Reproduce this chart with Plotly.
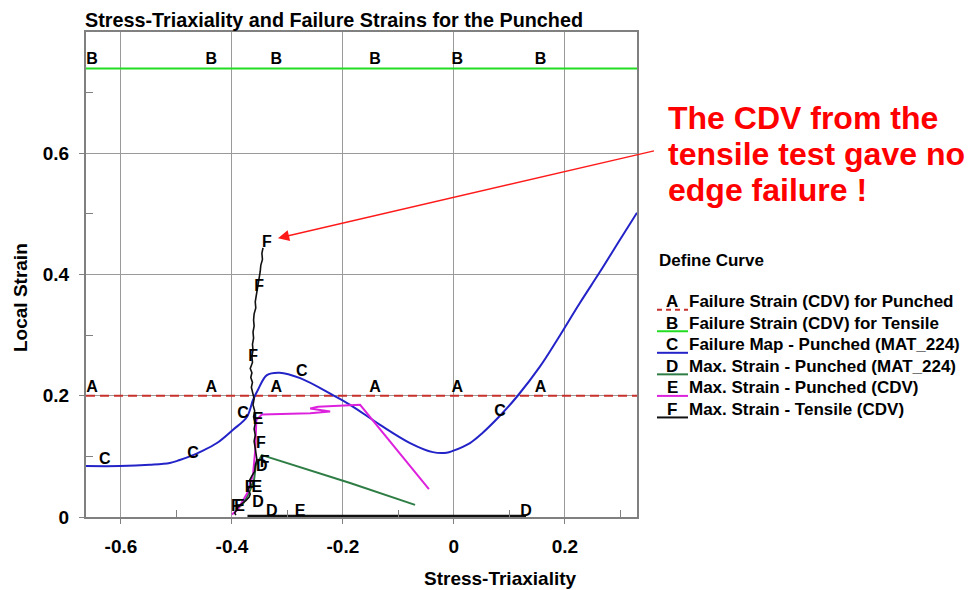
import plotly.graph_objects as go

FONT = "Liberation Sans, Arial, sans-serif"

# ---------------- data ----------------
x_ticks = [-0.6, -0.4, -0.2, 0.0, 0.2]
x_tick_text = ["-0.6", "-0.4", "-0.2", "0", "0.2"]
y_ticks = [0.0, 0.2, 0.4, 0.6]
y_tick_text = ["0", "0.2", "0.4", "0.6"]
x_minor = [-0.5, -0.3, -0.1, 0.1, 0.3]
y_minor = [0.1, 0.3, 0.5, 0.7]

x_span = [-0.663, 0.330]
A_level = 0.20   # Failure Strain (CDV) for Punched
B_level = 0.74   # Failure Strain (CDV) for Tensile
AB_label_x = [-0.652, -0.437, -0.320, -0.142, 0.006, 0.156]

C_x = [-0.663, -0.602, -0.548, -0.512, -0.494, -0.470, -0.458, -0.427, -0.398,
       -0.373, -0.362, -0.353, -0.337, -0.314, -0.277, -0.218, -0.187, -0.133,
       -0.079, -0.038, -0.013, -0.002, 0.029, 0.052, 0.083, 0.115, 0.155, 0.186,
       0.227, 0.263, 0.299, 0.330]
C_y = [0.084, 0.084, 0.086, 0.089, 0.094, 0.102, 0.107, 0.122, 0.144,
       0.165, 0.193, 0.210, 0.234, 0.238, 0.229, 0.201, 0.185, 0.152,
       0.122, 0.107, 0.106, 0.109, 0.122, 0.139, 0.167, 0.200, 0.248, 0.292,
       0.353, 0.404, 0.457, 0.502]

D_x = [-0.392, -0.380, -0.369, -0.360, -0.357, -0.346, -0.187, -0.070]
D_y = [0.012, 0.022, 0.040, 0.062, 0.085, 0.102, 0.056, 0.020]
D_base_x = [-0.372, 0.130]
D_base_y = [0.002, 0.002]

E_x = [-0.400, -0.390, -0.372, -0.362, -0.358, -0.356, -0.346, -0.259, -0.223,
       -0.259, -0.245, -0.187, -0.169, -0.045]
E_y = [0.004, 0.012, 0.040, 0.070, 0.110, 0.160, 0.169, 0.171, 0.174,
       0.179, 0.182, 0.185, 0.185, 0.046]

F_y = [0.444, 0.435, 0.425, 0.415, 0.405, 0.395, 0.385, 0.375, 0.365, 0.355,
       0.345, 0.335, 0.325, 0.315, 0.305, 0.295, 0.285, 0.275, 0.265, 0.255,
       0.245, 0.238, 0.230, 0.222, 0.214, 0.205, 0.195, 0.185, 0.175, 0.165,
       0.155, 0.145, 0.135, 0.125, 0.115, 0.105, 0.095, 0.085, 0.075, 0.068,
       0.061, 0.053, 0.045, 0.038, 0.033, 0.027, 0.022, 0.017, 0.012, 0.007,
       0.003]
F_x = [-0.344, -0.346, -0.345, -0.348, -0.349, -0.351, -0.352, -0.355, -0.356, -0.358,
       -0.357, -0.360, -0.361, -0.360, -0.362, -0.361, -0.363, -0.362, -0.364, -0.363,
       -0.367, -0.364, -0.366, -0.363, -0.365, -0.362, -0.360, -0.362, -0.359, -0.361,
       -0.358, -0.360, -0.358, -0.360, -0.358, -0.356, -0.355, -0.358, -0.359, -0.364,
       -0.368, -0.366, -0.371, -0.367, -0.369, -0.375, -0.381, -0.389, -0.391, -0.395,
       -0.393]

C_lbl_x = [-0.629, -0.470, -0.380, -0.274, 0.083]
C_lbl_y = [0.094, 0.104, 0.170, 0.239, 0.173]
D_lbl_x = [-0.346, -0.353, -0.328, 0.130]
D_lbl_y = [0.083, 0.023, 0.009, 0.009]
E_lbl_x = [-0.353, -0.355, -0.386, -0.277]
E_lbl_y = [0.160, 0.048, 0.016, 0.009]
F_lbl_x = [-0.337, -0.351, -0.362, -0.348, -0.341, -0.368, -0.393]
F_lbl_y = [0.452, 0.380, 0.264, 0.120, 0.089, 0.048, 0.016]

letters = ["A", "B", "C", "D", "E", "F"]
names = {
    "A": "Failure Strain (CDV) for Punched",
    "B": "Failure Strain (CDV) for Tensile",
    "C": "Failure Map - Punched (MAT_224)",
    "D": "Max. Strain - Punched (MAT_224)",
    "E": "Max. Strain - Punched (CDV)",
    "F": "Max. Strain - Tensile (CDV)",
}
colors = {"A": "#c8312b", "B": "#22dd22", "C": "#2323c8", "D": "#2e7d45",
          "E": "#dd22dd", "F": "#111111"}
legend_title = "Define Curve"
annot_lines = ["The CDV from the", "tensile test gave no", "edge failure !"]

# ---------------- layout geometry (pixels) ----------------
W, H = 968, 582          # page body has an 8px margin
ML, MR, MT, MB = 78, 339, 24, 73
PW, PH = W - ML - MR, H - MT - MB


def px_x(px):
    return (px - ML) / PW


def px_y(py):
    return (H - MB - py) / PH


# ---------------- figure ----------------
fig = go.Figure()

fig.add_trace(go.Scatter(x=x_span, y=[A_level, A_level], mode="lines", name=names["A"],
                         line=dict(color=colors["A"], width=2.2, dash="9px,5px")))
fig.add_trace(go.Scatter(x=x_span, y=[B_level, B_level], mode="lines", name=names["B"],
                         line=dict(color=colors["B"], width=2)))
fig.add_trace(go.Scatter(x=C_x, y=C_y, mode="lines", name=names["C"], line_shape="spline",
                         line=dict(color=colors["C"], width=2)))
fig.add_trace(go.Scatter(x=D_x, y=D_y, mode="lines", name=names["D"],
                         line=dict(color=colors["D"], width=2)))
fig.add_trace(go.Scatter(x=E_x, y=E_y, mode="lines", name=names["E"],
                         line=dict(color=colors["E"], width=2)))
fig.add_trace(go.Scatter(x=F_x, y=F_y, mode="lines", name=names["F"],
                         line=dict(color=colors["F"], width=1.6)))
fig.add_trace(go.Scatter(x=D_base_x, y=D_base_y, mode="lines", showlegend=False,
                         cliponaxis=False, line=dict(color="#111111", width=2.2)))

lbl_font = dict(family=FONT, size=16, color="black", weight="bold")
for letter, lx, ly, pos in [
    ("A", AB_label_x, [A_level] * len(AB_label_x), "top center"),
    ("B", AB_label_x, [B_level] * len(AB_label_x), "top center"),
    ("C", C_lbl_x, C_lbl_y, "middle center"),
    ("D", D_lbl_x, D_lbl_y, "middle center"),
    ("E", E_lbl_x, E_lbl_y, "middle center"),
    ("F", F_lbl_x, F_lbl_y, "middle center"),
]:
    fig.add_trace(go.Scatter(x=lx, y=ly, mode="text", text=[letter] * len(lx),
                             textposition=pos, textfont=lbl_font, showlegend=False,
                             cliponaxis=False, hoverinfo="skip"))

axis_common = dict(
    showgrid=True, gridcolor="#9a9a9a", gridwidth=1, zeroline=False,
    showline=True, linecolor="#808080", linewidth=2, mirror=True,
    ticks="outside", ticklen=5, tickcolor="#808080", tickwidth=1,
    tickfont=dict(family=FONT, size=19, color="black", weight="bold"),
    ticklabelstandoff=6,
)
fig.update_xaxes(range=x_span, tickvals=x_ticks, ticktext=x_tick_text,
                 minor=dict(tickvals=x_minor, ticks="inside", ticklen=7,
                            tickcolor="#808080", showgrid=False),
                 **axis_common)
fig.update_yaxes(range=[0, 0.8], tickvals=y_ticks, ticktext=y_tick_text,
                 minor=dict(tickvals=y_minor, ticks="inside", ticklen=7,
                            tickcolor="#808080", showgrid=False),
                 **axis_common)


def bold(size, color="black"):
    return dict(family=FONT, size=size, color=color, weight="bold")


annotations = [
    dict(text="Stress-Triaxiality", xref="paper", yref="paper", x=px_x(492), y=px_y(570),
         xanchor="center", yanchor="middle", showarrow=False, font=bold(19)),
    dict(text="Local Strain", xref="paper", yref="paper", x=px_x(12), y=px_y(290),
         xanchor="center", yanchor="middle", showarrow=False, textangle=-90, font=bold(19)),
    dict(text=" ", x=-0.317, y=0.460, xref="x", yref="y", ax=379, ay=-88,
         showarrow=True, arrowhead=2, arrowsize=1.6, arrowwidth=1.4,
         arrowcolor="#ff1a1a"),
]
for line, yc in zip(annot_lines, [110, 146, 182]):
    annotations.append(dict(text=line, xref="paper", yref="paper", x=px_x(658), y=px_y(yc),
                            xanchor="left", yanchor="middle", showarrow=False,
                            font=bold(32, "#ff0000")))

# custom legend ("_A_ name" style, as drawn by the original software)
shapes = []
annotations.append(dict(text=legend_title, xref="paper", yref="paper", x=px_x(649),
                        y=px_y(252), xanchor="left", yanchor="middle", showarrow=False,
                        font=bold(17)))
for i, k in enumerate(letters):
    yc = 293.7 + 21.55 * i
    annotations.append(dict(text=names[k], xref="paper", yref="paper", x=px_x(679),
                            y=px_y(yc), xanchor="left", yanchor="middle",
                            showarrow=False, font=bold(17)))
    annotations.append(dict(text=k, xref="paper", yref="paper", x=px_x(664),
                            y=px_y(yc), xanchor="center", yanchor="middle",
                            showarrow=False, font=bold(17)))
    shapes.append(dict(type="line", xref="paper", yref="paper",
                       x0=px_x(649), x1=px_x(680), y0=px_y(yc + 8), y1=px_y(yc + 8),
                       line=dict(color=colors[k], width=2,
                                 dash="5px,4px" if k == "A" else "solid")))

fig.update_layout(
    width=W, height=H,
    margin=dict(l=ML, r=MR, t=MT, b=MB),
    paper_bgcolor="white", plot_bgcolor="white",
    title=dict(text="Stress-Triaxiality and Failure Strains for the Punched",
               x=77 / W, xanchor="left", xref="container",
               y=1 - 12 / H, yanchor="middle", yref="container",
               font=bold(19.8)),
    annotations=annotations,
    shapes=shapes,
    showlegend=False,
)

fig.write_html("out.html")
